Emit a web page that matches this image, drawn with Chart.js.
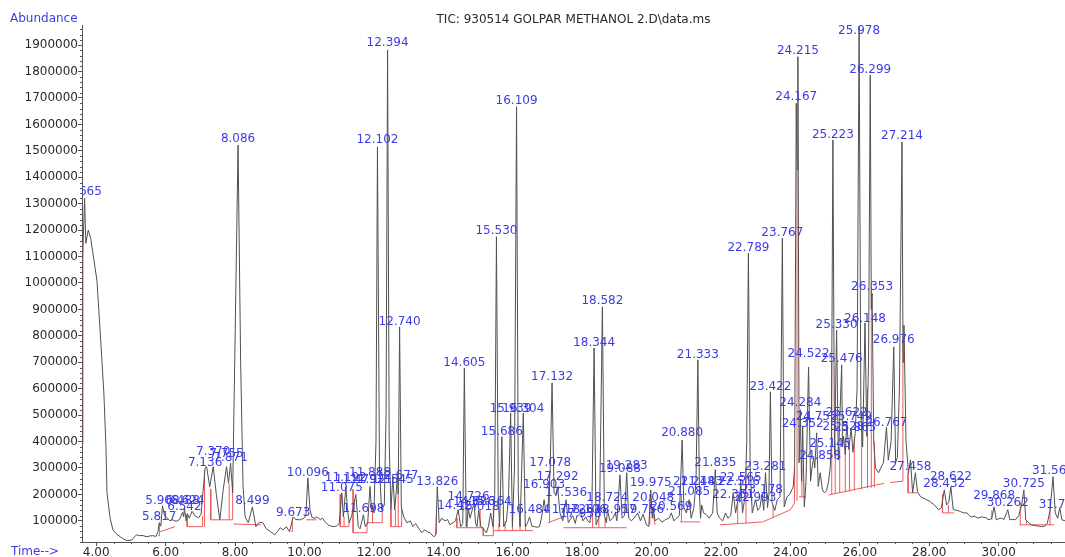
<!DOCTYPE html>
<html>
<head>
<meta charset="utf-8">
<title>TIC: 930514 GOLPAR METHANOL 2.D\data.ms</title>
<script src="https://cdn.jsdelivr.net/npm/chart.js@4.4.1/dist/chart.umd.min.js"></script>
<style>
  html, body { margin: 0; padding: 0; background: #fff; }
  #wrap { position: relative; width: 1065px; height: 557px; }
</style>
</head>
<body>
<div id="wrap"><canvas id="tic"></canvas></div>
<script>
"use strict";

const chartTitle = "TIC: 930514 GOLPAR METHANOL 2.D\\data.ms";

// retention time (min) and abundance (x1000) of the TIC trace
const rtMin = [
  3.59, 3.61, 3.665, 3.70, 3.77, 3.84, 3.93, 4.02, 4.11, 4.22, 4.28, 4.31, 4.40, 4.48, 4.60, 4.69, 4.80, 4.89,
  5.03, 5.10, 5.17, 5.25, 5.32, 5.46, 5.55, 5.63, 5.72, 5.78, 5.817, 5.86, 5.908, 5.97, 6.05, 6.12, 6.20, 6.30,
  6.40, 6.488, 6.52, 6.542, 6.59, 6.624, 6.68, 6.76, 6.85, 6.95, 7.02, 7.136, 7.18, 7.27, 7.370, 7.46, 7.56,
  7.66, 7.755, 7.81, 7.871, 7.93, 7.99, 8.086, 8.16, 8.23, 8.29, 8.38, 8.499, 8.60, 8.70, 8.80, 8.90, 9.02,
  9.14, 9.22, 9.30, 9.38, 9.48, 9.57, 9.673, 9.75, 9.88, 9.98, 10.04, 10.096, 10.16, 10.22, 10.30, 10.36,
  10.45, 10.52, 10.60, 10.68, 10.76, 10.82, 10.92, 11.00, 11.075, 11.12, 11.192, 11.24, 11.29, 11.36, 11.479,
  11.55, 11.60, 11.698, 11.75, 11.82, 11.888, 11.93, 11.96, 12.00, 12.06, 12.102, 12.16, 12.22, 12.30, 12.35,
  12.394, 12.44, 12.49, 12.545, 12.60, 12.677, 12.70, 12.740, 12.79, 12.86, 12.95, 13.05, 13.12, 13.20, 13.30,
  13.38, 13.46, 13.55, 13.62, 13.72, 13.78, 13.826, 13.88, 13.95, 14.05, 14.12, 14.19, 14.28, 14.35, 14.427,
  14.50, 14.56, 14.605, 14.66, 14.726, 14.77, 14.886, 14.93, 14.97, 15.018, 15.08, 15.15, 15.24, 15.30, 15.364,
  15.43, 15.48, 15.530, 15.58, 15.62, 15.686, 15.74, 15.82, 15.88, 15.939, 15.99, 16.05, 16.109, 16.16, 16.21,
  16.304, 16.36, 16.42, 16.484, 16.55, 16.62, 16.70, 16.77, 16.84, 16.903, 16.96, 17.02, 17.078, 17.132, 17.19,
  17.24, 17.292, 17.36, 17.44, 17.536, 17.60, 17.68, 17.726, 17.80, 17.84, 17.958, 18.02, 18.106, 18.16, 18.22,
  18.28, 18.344, 18.40, 18.50, 18.582, 18.64, 18.70, 18.724, 18.80, 18.88, 18.957, 19.00, 19.088, 19.15, 19.22,
  19.283, 19.34, 19.42, 19.52, 19.60, 19.68, 19.756, 19.85, 19.92, 19.975, 20.02, 20.048, 20.10, 20.20, 20.30,
  20.40, 20.50, 20.569, 20.64, 20.72, 20.80, 20.880, 20.93, 21.00, 21.085, 21.14, 21.218, 21.28, 21.333, 21.38,
  21.41, 21.443, 21.50, 21.58, 21.66, 21.76, 21.835, 21.89, 21.96, 22.05, 22.13, 22.20, 22.28, 22.351, 22.42,
  22.516, 22.54, 22.565, 22.62, 22.70, 22.74, 22.789, 22.84, 22.90, 22.993, 23.06, 23.12, 23.178, 23.23, 23.281,
  23.34, 23.38, 23.422, 23.47, 23.55, 23.62, 23.70, 23.767, 23.82, 23.90, 23.98, 24.08, 24.12, 24.167, 24.19,
  24.215, 24.25, 24.284, 24.32, 24.352, 24.40, 24.45, 24.522, 24.58, 24.62, 24.67, 24.70, 24.755, 24.80, 24.858,
  24.92, 24.98, 25.04, 25.10, 25.145, 25.18, 25.223, 25.27, 25.330, 25.38, 25.476, 25.50, 25.528, 25.58, 25.622,
  25.68, 25.749, 25.80, 25.865, 25.92, 25.978, 26.03, 26.08, 26.148, 26.20, 26.25, 26.299, 26.33, 26.353, 26.40,
  26.45, 26.54, 26.60, 26.68, 26.767, 26.82, 26.90, 26.976, 27.03, 27.08, 27.14, 27.214, 27.245, 27.27, 27.33,
  27.40, 27.458, 27.52, 27.60, 27.66, 27.75, 27.85, 27.92, 28.00, 28.07, 28.15, 28.27, 28.35, 28.432, 28.50,
  28.56, 28.622, 28.69, 28.80, 28.90, 29.00, 29.09, 29.15, 29.22, 29.30, 29.40, 29.50, 29.63, 29.72, 29.80,
  29.868, 29.93, 30.00, 30.08, 30.15, 30.262, 30.32, 30.40, 30.48, 30.58, 30.66, 30.725, 30.78, 30.85, 30.94,
  31.05, 31.15, 31.23, 31.32, 31.40, 31.48, 31.564, 31.63, 31.70, 31.758, 31.82, 31.91
];
const ticK = [
  390, 1100, 1320, 1150, 1200, 1170, 1090, 1010, 822, 584, 380, 206, 110, 66, 48, 40, 30, 25,
  28, 40, 47, 44, 45, 40, 43, 44, 41, 60, 93, 80, 157, 120, 110, 100, 104, 98,
  105, 132, 115, 149, 100, 128, 110, 136, 118, 112, 125, 300, 305, 229, 305, 200, 104,
  220, 305, 242, 318, 206, 700, 1522, 700, 229, 115, 93, 153, 78, 95, 93, 70, 59,
  47, 60, 74, 66, 78, 59, 115, 105, 104, 110, 120, 263, 140, 112, 110, 115,
  105, 110, 95, 85, 80, 78, 80, 90, 206, 115, 229, 140, 93, 120, 200,
  78, 70, 123, 78, 90, 230, 140, 160, 130, 400, 1515, 300, 142, 160, 500,
  1882, 400, 142, 267, 142, 267, 200, 834, 150, 115, 93, 100, 78, 90, 70,
  55, 66, 58, 55, 40, 45, 229, 93, 110, 100, 105, 85, 93, 100, 142,
  78, 90, 678, 78, 142, 110, 168, 90, 78, 142, 80, 70, 55, 80, 130,
  78, 200, 1175, 200, 78, 418, 78, 100, 200, 508, 78, 300, 1667, 200, 78,
  508, 78, 90, 115, 80, 78, 76, 78, 120, 180, 130, 160, 293, 622, 206,
  200, 229, 130, 100, 180, 93, 110, 120, 90, 115, 130, 100, 115, 100, 93,
  150, 754, 85, 120, 910, 120, 93, 142, 100, 110, 130, 100, 274, 110, 120,
  282, 110, 100, 115, 130, 100, 125, 85, 78, 217, 110, 150, 100, 110, 95,
  105, 110, 130, 100, 110, 120, 406, 150, 130, 180, 110, 150, 250, 709, 200,
  110, 160, 130, 123, 110, 130, 293, 130, 110, 100, 130, 110, 120, 206, 130,
  200, 170, 255, 130, 200, 400, 1113, 300, 130, 180, 140, 150, 200, 140, 282,
  150, 200, 588, 168, 140, 180, 190, 1170, 153, 191, 200, 229, 300, 1680, 1430,
  1856, 320, 520, 250, 455, 153, 250, 682, 250, 300, 340, 300, 433, 230, 282,
  217, 206, 215, 250, 300, 400, 1541, 350, 822, 330, 690, 380, 420, 350, 470,
  370, 450, 360, 430, 600, 1969, 500, 380, 849, 420, 700, 1787, 900, 960, 400,
  300, 282, 300, 320, 455, 330, 400, 758, 320, 340, 600, 1534, 700, 840, 400,
  282, 331, 206, 282, 210, 191, 185, 180, 175, 168, 160, 142, 150, 217, 160,
  170, 229, 142, 140, 135, 130, 130, 120, 115, 118, 110, 115, 112, 104, 110,
  153, 104, 108, 110, 105, 142, 104, 106, 104, 120, 160, 217, 104, 95, 85,
  82, 80, 78, 80, 90, 140, 267, 130, 110, 150, 104, 100
];

// red integration baselines and drop lines (null = pen up)
const redT = [
  3.61, 3.61, null,
  5.78, 5.82, 5.82, null, 5.84, 6.27, null,
  6.62, 6.62, 7.06, 7.06, null, 7.12, 7.12, null,
  7.30, 7.30, 7.93, 7.93, null, 7.83, 7.83, null, 7.96, 8.75, null,
  9.62, 9.65, 9.65, null, 10.05, 10.35, null,
  11.03, 11.03, 11.28, 11.28, null, 11.14, 11.14, null,
  11.40, 11.40, 11.80, 11.80, null, 11.82, 12.24, 12.24, null, 11.96, 11.96, null,
  12.49, 12.49, 12.80, 12.80, null, 12.62, 12.62, null, 12.70, 12.70, null,
  13.80, 13.80, null,
  14.39, 14.39, 15.15, 15.15, 15.44, 15.44, null, 14.69, 14.69, null, 15.06, 15.06, null,
  15.44, 16.58, null, 15.60, 15.60, null, 15.78, 15.78, null, 15.99, 15.99, null, 16.21, 16.21, null, 16.37, 16.37, null,
  17.02, 17.46, null, 17.06, 17.06, null,
  17.46, 19.28, null, 18.30, 18.30, null, 18.48, 18.48, null, 18.66, 18.66, null,
  19.95, 19.95, 20.10, null, 20.82, 21.40, null, 20.86, 20.86, null,
  21.97, 23.20, 24.00, 24.12, null, 22.48, 22.48, null, 22.72, 22.72, null, 23.50, 23.50, null,
  24.12, 24.12, null, 24.19, 24.19, null,
  24.25, 24.45, null, 24.33, 24.33, null,
  25.10, 26.70, null, 25.19, 25.19, null, 25.29, 25.29, null, 25.42, 25.42, null, 25.58, 25.58, null,
  25.70, 25.70, null, 25.84, 25.84, null, 26.05, 26.05, null, 26.22, 26.22, null, 26.33, 26.33, null,
  26.42, 26.42, null,
  26.87, 27.24, null, 27.24, 27.24, null, 27.39, 27.39, 27.66, null,
  28.38, 28.38, 28.72, null, 28.55, 28.55, null, 29.80, 29.80, null,
  30.60, 31.60, null, 30.62, 30.62, null, 30.80, 30.80, null, 31.48, 31.48
];
const redK = [
  390, 1150, null,
  44, 44, 93, null, 59, 78, null,
  123, 78, 78, 118, null, 78, 290, null,
  220, 104, 104, 250, null, 104, 240, null, 88, 85, null,
  59, 59, 110, null, 104, 104, null,
  200, 78, 78, 100, null, 78, 115, null,
  220, 55, 55, 95, null, 93, 93, 142, null, 93, 160, null,
  142, 78, 78, 150, null, 78, 142, null, 78, 200, null,
  50, 120, null,
  110, 74, 74, 44, 44, 150, null, 74, 180, null, 74, 142, null,
  63, 63, null, 63, 90, null, 63, 100, null, 63, 130, null, 63, 110, null, 63, 90, null,
  93, 115, null, 93, 290, null,
  74, 74, null, 74, 150, null, 74, 120, null, 74, 110, null,
  85, 200, 85, null, 96, 96, null, 96, 200, null,
  85, 96, 142, 168, null, 88, 168, null, 90, 300, null, 110, 160, null,
  168, 300, null, 175, 1430, null,
  191, 191, null, 191, 300, null,
  198, 242, null, 200, 700, null, 202, 400, null, 205, 380, null, 208, 360, null,
  211, 380, null, 214, 420, null, 219, 450, null, 223, 600, null, 225, 1000, null,
  227, 400, null,
  245, 250, null, 250, 800, null, 282, 206, 206, null,
  200, 130, 130, null, 130, 160, null, 104, 140, null,
  85, 85, null, 85, 170, null, 85, 100, null, 85, 150
];

// peak labels and the abundance (x1000) at which each label text is centred
const peakLabels = [
  "3.665", "5.817", "5.908", "6.488", "6.624", "6.542", "7.136", "7.370", "7.755", "7.871", "8.086", "8.499",
  "9.673", "10.096", "11.075", "11.192", "11.479", "11.698", "11.888", "11.921", "12.102", "12.394", "12.545",
  "12.677", "12.740", "13.826", "14.427", "14.605", "14.726", "14.886", "15.018", "15.364", "15.530", "15.686",
  "15.939", "16.109", "16.304", "16.484", "16.903", "17.078", "17.132", "17.292", "17.536", "17.726", "17.958",
  "18.106", "18.344", "18.582", "18.724", "18.957", "19.088", "19.283", "19.756", "19.975", "20.048", "20.569",
  "20.880", "21.085", "21.218", "21.333", "21.443", "21.835", "22.351", "22.516", "22.565", "22.789", "22.993",
  "23.178", "23.281", "23.422", "23.767", "24.167", "24.215", "24.284", "24.352", "24.522", "24.755", "24.858",
  "25.145", "25.223", "25.330", "25.476", "25.528", "25.622", "25.749", "25.865", "25.978", "26.148", "26.299",
  "26.353", "26.767", "26.976", "27.214", "27.458", "28.432", "28.622", "29.868", "30.262", "30.725", "31.564",
  "31.758"
];
const labelK = [
  1344, 115, 176, 176, 176, 153, 320, 361, 353, 338, 1545, 176,
  130, 282, 225, 263, 255, 146, 282, 255, 1541, 1908, 255,
  270, 853, 248, 157, 698, 191, 172, 153, 172, 1197, 437,
  524, 1689, 524, 142, 236, 320, 645, 267, 206, 142, 125,
  142, 773, 932, 187, 142, 297, 308, 142, 244, 187, 153,
  433, 210, 248, 728, 248, 320, 198, 248, 263, 1133, 187,
  217, 304, 607, 1189, 1704, 1878, 547, 467, 732, 494, 346,
  391, 1560, 842, 712, 456, 509, 494, 452, 1953, 864, 1806,
  985, 471, 785, 1556, 304, 240, 267, 195, 168, 240, 289,
  161
];

const yTicks = [100000, 200000, 300000, 400000, 500000, 600000, 700000, 800000, 900000, 1000000,
  1100000, 1200000, 1300000, 1400000, 1500000, 1600000, 1700000, 1800000, 1900000];
const xTicks = [4, 6, 8, 10, 12, 14, 16, 18, 20, 22, 24, 26, 28, 30];

const FONT = "DejaVu Sans";
const BLUE = "#3c3ce4";
const INK = "#2a2a2a";

const tracePoints = rtMin.map((t, i) => ({ x: t, y: ticK[i] * 1000 }));
const redPoints = [];
redT.forEach((t, i) => {
  if (t === null) redPoints.push({ x: redPoints.length ? redPoints[redPoints.length - 1].x : 0, y: null });
  else redPoints.push({ x: t, y: redK[i] * 1000 });
});

// minor ticks, peak labels and the header / axis captions
const decorations = {
  id: "decorations",
  afterDatasetsDraw(chart) {
    const { ctx, chartArea: area, scales: { x, y } } = chart;
    ctx.save();
    ctx.strokeStyle = "#555";
    ctx.lineWidth = 1;
    ctx.beginPath();
    for (let v = 20000; v <= 1960000; v += 20000) {
      if (v % 100000 === 0) continue;
      const py = Math.round(y.getPixelForValue(v)) + 0.5;
      ctx.moveTo(area.left - 2, py);
      ctx.lineTo(area.left, py);
    }
    for (let t = 4; t <= 31.9; t += 0.5) {
      if (t % 2 === 0) continue;
      const px = Math.round(x.getPixelForValue(t)) + 0.5;
      ctx.moveTo(px, area.bottom);
      ctx.lineTo(px, area.bottom + 2);
    }
    ctx.stroke();

    ctx.beginPath();
    ctx.rect(area.left, 0, area.right - area.left, area.bottom);
    ctx.clip();
    ctx.font = `12px "${FONT}"`;
    ctx.fillStyle = BLUE;
    ctx.textAlign = "center";
    ctx.textBaseline = "middle";
    peakLabels.forEach((lab, i) => {
      ctx.fillText(lab, x.getPixelForValue(parseFloat(lab)), y.getPixelForValue(labelK[i] * 1000));
    });
    ctx.restore();

    ctx.save();
    ctx.font = `12px "${FONT}"`;
    ctx.textBaseline = "middle";
    ctx.fillStyle = INK;
    ctx.textAlign = "center";
    ctx.fillText(chartTitle, (area.left + area.right) / 2, 20);
    ctx.fillStyle = BLUE;
    ctx.textAlign = "left";
    ctx.fillText("Abundance", 10, 19);
    ctx.fillText("Time-->", 11, 552);
    ctx.restore();
  },
};

new Chart(document.getElementById("tic"), {
  type: "line",
  data: {
    datasets: [
      {
        data: tracePoints,
        borderColor: "#505050",
        borderWidth: 1,
        pointRadius: 0,
        tension: 0,
        order: 1,
      },
      {
        data: redPoints,
        borderColor: "#ef5b5b",
        borderWidth: 1,
        pointRadius: 0,
        tension: 0,
        spanGaps: false,
        order: 2,
      },
    ],
  },
  options: {
    responsive: true,
    maintainAspectRatio: false,
    animation: false,
    devicePixelRatio: 1,
    layout: { padding: { top: 25, left: 0, right: 0, bottom: 0 } },
    plugins: { legend: { display: false }, tooltip: { enabled: false }, title: { display: false } },
    scales: {
      x: {
        type: "linear",
        min: 3.59,
        max: 31.91,
        afterBuildTicks: (s) => { s.ticks = xTicks.map((v) => ({ value: v })); },
        afterFit: (s) => { s.height = 15; },
        ticks: {
          callback: (v) => Number(v).toFixed(2),
          font: { family: FONT, size: 12 },
          color: INK,
          padding: 0,
          maxRotation: 0,
          autoSkip: false,
        },
        grid: { drawOnChartArea: false, tickLength: 4, color: "#555" },
        border: { color: "#555" },
      },
      y: {
        min: 20000,
        max: 1976000,
        afterBuildTicks: (s) => { s.ticks = yTicks.map((v) => ({ value: v })); },
        afterFit: (s) => { s.width = 82; },
        ticks: {
          callback: (v) => String(v),
          font: { family: FONT, size: 12 },
          color: INK,
          padding: 0,
          autoSkip: false,
        },
        grid: { drawOnChartArea: false, tickLength: 4, color: "#555" },
        border: { color: "#555" },
      },
    },
  },
  plugins: [decorations],
});
</script>
</body>
</html>
